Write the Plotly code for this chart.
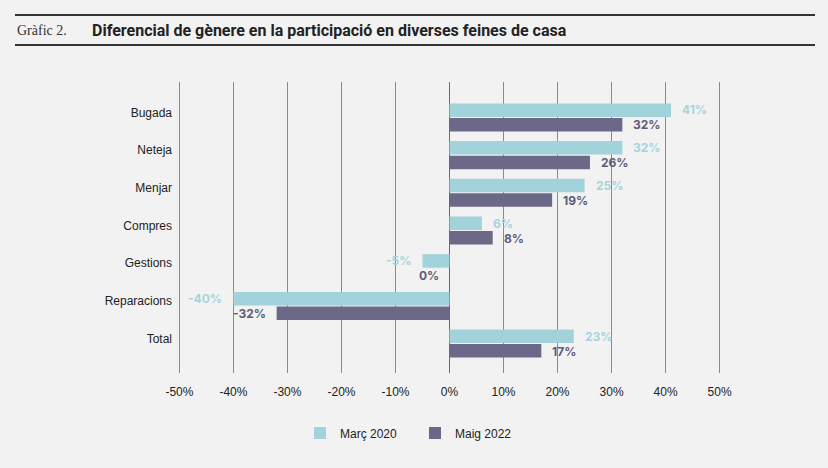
import plotly.graph_objects as go

categories = ["Bugada", "Neteja", "Menjar", "Compres", "Gestions", "Reparacions", "Total"]
marc_2020 = [41, 32, 25, 6, -5, -40, 23]
maig_2022 = [32, 26, 19, 8, 0, -32, 17]
x_ticks = [-50, -40, -30, -20, -10, 0, 10, 20, 30, 40, 50]
x_tick_labels = [f"{v}%" for v in x_ticks]

LIGHT = "#a2d2da"
DARK = "#6b6987"
LIGHT_TXT = "#a6d4dc"
DARK_TXT = "#5d5b78"
BG = "#f2f2f2"

W, H = 828, 468
L, R, T, B = 174, 103, 82, 95
pw, ph = W - L - R, H - T - B


def px_x(x):
    return (x - L) / pw


def px_y(y):
    return 1 - (y - T) / ph


fig = go.Figure()
fig.add_trace(go.Bar(y=categories, x=marc_2020, orientation="h", name="Març 2020",
                     marker=dict(color=LIGHT, line=dict(width=0))))
fig.add_trace(go.Bar(y=categories, x=maig_2022, orientation="h", name="Maig 2022",
                     marker=dict(color=DARK, line=dict(width=0))))

for vals, shift, col in [(marc_2020, 7.5, LIGHT_TXT), (maig_2022, -7.5, DARK_TXT)]:
    for c, v in zip(categories, vals):
        pos = v > 0
        fig.add_annotation(x=v, y=c, xref="x", yref="y", text=f"<b>{v}%</b>",
                           showarrow=False, xanchor="left" if pos else "right",
                           xshift=9 if pos else -9, yshift=shift,
                           font=dict(family="Inter", size=12, color=col))

fig.add_annotation(text="Gràfic 2.", x=px_x(15), y=px_y(31), xref="paper", yref="paper",
                   xanchor="left", yanchor="middle", showarrow=False,
                   font=dict(family="Liberation Serif", size=14, color="#333333"))
fig.add_annotation(text="<b>Diferencial de gènere en la participació en diverses feines de casa</b>",
                   x=px_x(90), y=px_y(31), xref="paper", yref="paper",
                   xanchor="left", yanchor="middle", showarrow=False,
                   font=dict(family="Roboto", size=16, color="#222222"))

for yy in (15, 45):
    fig.add_shape(type="line", xref="paper", yref="paper",
                  x0=px_x(15), x1=px_x(815), y0=px_y(yy), y1=px_y(yy),
                  line=dict(color="#333333", width=2))

fig.update_layout(
    width=W, height=H,
    margin=dict(l=L, r=R, t=T, b=B),
    paper_bgcolor=BG, plot_bgcolor=BG,
    barmode="group", bargap=0.23, bargroupgap=0.07,
    font=dict(family="Liberation Sans", size=12, color="#222222"),
    xaxis=dict(range=[-51, 51], tickvals=x_ticks, ticktext=x_tick_labels,
               showgrid=True, gridcolor="#8a8a8a", gridwidth=1,
               zeroline=True, zerolinecolor="#6a6a6a", zerolinewidth=1,
               showline=False, ticklabelstandoff=10, fixedrange=True),
    yaxis=dict(range=[6.78, -0.94], showgrid=False, zeroline=False, showline=False,
               ticklabelstandoff=1, ticklabelshift=5, fixedrange=True),
    legend=dict(orientation="h", x=300 / W, xref="container", y=1 - 433 / H, yref="container",
                yanchor="middle", xanchor="left", font=dict(size=12, color="#222222"),
                bgcolor="rgba(0,0,0,0)", itemwidth=30, entrywidth=70, traceorder="normal"),
    showlegend=True,
)

fig.write_html("out.html", config={"displayModeBar": False},
               post_script="document.body.style.margin='0';document.body.style.background='#f2f2f2';")
